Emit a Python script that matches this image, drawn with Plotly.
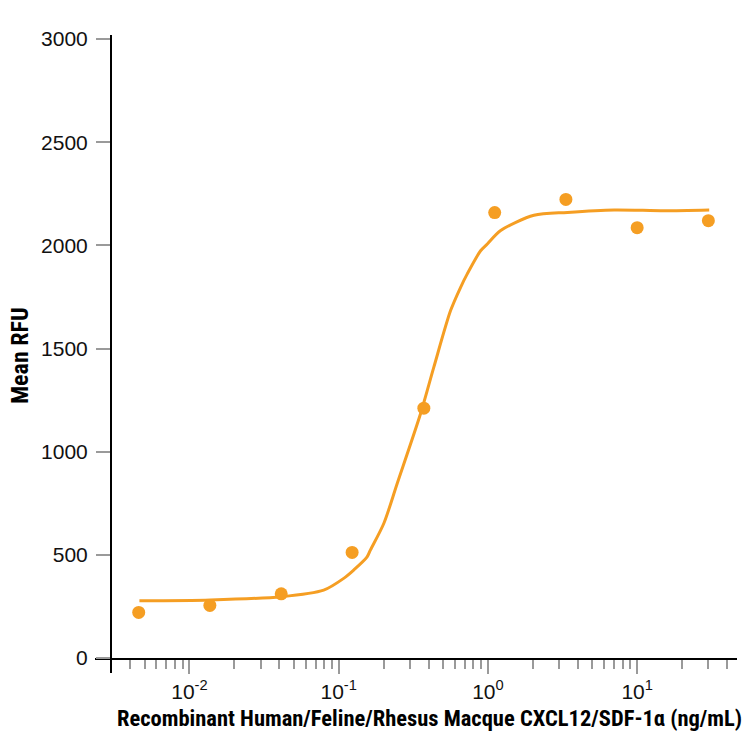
import plotly.graph_objects as go

# measured points (ng/mL, mean RFU)
conc = [0.00457, 0.0137, 0.0412, 0.123, 0.372, 1.11, 3.33, 10.0, 30.0]
rfu = [221, 255, 311, 512, 1211, 2159, 2223, 2086, 2120]

# fitted curve
fit_x = [0.00462, 0.0138, 0.0412, 0.0793, 0.108, 0.126, 0.155, 0.163, 0.2005,
         0.2466, 0.3534, 0.434, 0.562, 0.656, 0.727, 0.893, 0.991,
         1.217, 2.035, 3.41, 7.01, 15.2, 30.4]
fit_y = [277, 281, 297, 329, 386, 426, 490, 523, 652,
         846, 1184, 1410, 1684, 1797, 1862, 1974, 2007,
         2072, 2146, 2160, 2172, 2168, 2172]

y_ticks = [0, 500, 1000, 1500, 2000, 2500, 3000]
x_ticks = [0.01, 0.1, 1, 10]
x_ticktext = ["10<sup>-2</sup>", "10<sup>-1</sup>", "10<sup>0</sup>", "10<sup>1</sup>"]

ORANGE = "#F59E23"
TICK_GRAY = "#9a9a9a"
NARROW = "Noto Sans Condensed, Roboto Condensed, Open Sans Condensed, Liberation Sans"

minor_vals = [m * 10.0 ** e for e in range(-3, 2) for m in range(2, 10)]
minor_vals = [v for v in minor_vals if 0.0035 < v < 45]

fig = go.Figure()
fig.add_trace(go.Scatter(x=fit_x, y=fit_y, mode="lines",
                         line=dict(color=ORANGE, width=3, shape="spline", smoothing=0.8),
                         hoverinfo="skip"))
fig.add_trace(go.Scatter(x=conc, y=rfu, mode="markers",
                         marker=dict(color=ORANGE, size=13)))

# page body adds 8px, so the figure is drawn 742 wide and shifted margins
fig.update_layout(
    width=742, height=742,
    margin=dict(l=87, r=13, t=27, b=92, autoexpand=False),
    paper_bgcolor="white", plot_bgcolor="white",
    showlegend=False,
    font=dict(family="Liberation Sans, Arial, sans-serif", color="#111"),
)

fig.update_xaxes(
    type="log", range=[-2.633, 1.669],
    showgrid=False, zeroline=False,
    showline=True, linecolor="black", linewidth=2,
    tickmode="array", tickvals=x_ticks, ticktext=x_ticktext,
    ticks="outside", ticklen=14, tickwidth=2, tickcolor=TICK_GRAY,
    tickfont=dict(size=21),
    minor=dict(tickmode="array", tickvals=minor_vals, ticks="outside",
               ticklen=9, tickwidth=2, tickcolor=TICK_GRAY),
)

fig.update_yaxes(
    range=[0, 3020], anchor="free", position=16 / 642,
    showgrid=False, zeroline=False,
    showline=True, linecolor="black", linewidth=2,
    tickmode="array", tickvals=y_ticks,
    ticks="outside", ticklen=14, tickwidth=2, tickcolor=TICK_GRAY,
    tickfont=dict(size=21), ticklabelstandoff=4,
)

# y axis line runs a little below the x axis
fig.add_shape(type="line", xref="paper", yref="paper",
              x0=16 / 642, x1=16 / 642, y0=0, y1=-0.024,
              line=dict(color="black", width=2))

fig.add_annotation(text="<b>Recombinant Human/Feline/Rhesus Macque CXCL12/SDF-1\u03b1 (ng/mL)</b>",
                   xref="paper", yref="paper", x=0.521, y=-0.0963,
                   xanchor="center", yanchor="middle", showarrow=False,
                   font=dict(family=NARROW, size=22.5, color="black"))
fig.add_annotation(text="<b>Mean RFU</b>", textangle=-90,
                   xref="paper", yref="paper", x=-0.117, y=0.486,
                   xanchor="center", yanchor="middle", showarrow=False,
                   borderpad=0,
                   font=dict(family=NARROW, size=24, color="black"))

fig.write_html("out.html")
